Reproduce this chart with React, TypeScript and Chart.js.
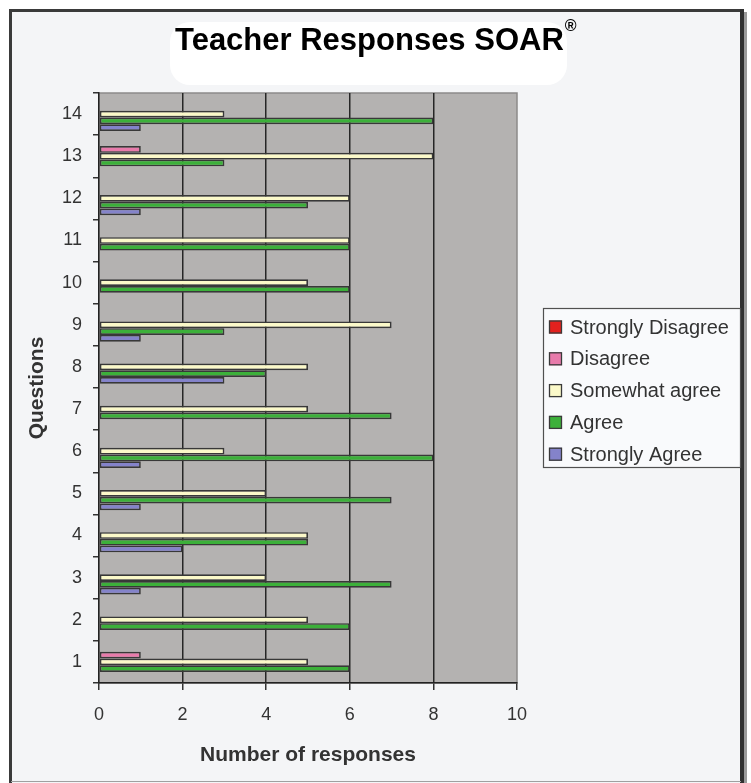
import React, { useEffect, useRef } from "react";
import { Chart, registerables } from "chart.js";

Chart.register(...registerables);

const QUESTIONS = ["1", "2", "3", "4", "5", "6", "7", "8", "9", "10", "11", "12", "13", "14"];
const SERIES_LABELS = ["Strongly Disagree", "Disagree", "Somewhat agree", "Agree", "Strongly Agree"];
const STRONGLY_DISAGREE = [0, 0, 0, 0, 0, 0, 0, 0, 0, 0, 0, 0, 0, 0];
const DISAGREE = [1, 0, 0, 0, 0, 0, 0, 0, 0, 0, 0, 0, 1, 0];
const SOMEWHAT_AGREE = [5, 5, 4, 5, 4, 3, 5, 5, 7, 5, 6, 6, 8, 3];
const AGREE = [6, 6, 7, 5, 7, 8, 7, 4, 3, 6, 6, 5, 3, 8];
const STRONGLY_AGREE = [0, 0, 1, 2, 1, 1, 0, 3, 1, 0, 0, 1, 0, 1];
const SERIES_COLORS = ["#e2211e", "#e87bab", "#fbf9c9", "#3cb03a", "#8483ca"];
const X_MIN = 0;
const X_MAX = 10;
const X_STEP = 2;
const TITLE = "Teacher Responses SOAR";
const TITLE_MARK = "®";
const X_TITLE = "Number of responses";
const Y_TITLE = "Questions";

const FONT = '"Liberation Sans", Arial, sans-serif';

const backgroundPlugin = {
  id: "pageBackground",
  beforeDraw(chart: any) {
    const ctx = chart.ctx;
    const W = chart.width;
    const H = chart.height;
    ctx.save();
    ctx.fillStyle = "#ffffff";
    ctx.fillRect(0, 0, W, H);
    // frame
    ctx.fillStyle = "#f4f5f7";
    ctx.fillRect(11, 11, 730, 772);
    ctx.fillStyle = "#3a3a3a";
    ctx.fillRect(9, 9, 735, 3);
    ctx.fillRect(9, 9, 3, 774);
    ctx.fillStyle = "#303030";
    ctx.fillRect(740, 9, 4, 774);
    ctx.fillStyle = "#9a9a9a";
    ctx.fillRect(744, 12, 3, 771);
    ctx.fillStyle = "#a0a0a0";
    ctx.fillRect(11, 781, 730, 1);
    // title box
    const rx = 170, ry = 22, rw = 397, rh = 63, r = 20;
    ctx.fillStyle = "#ffffff";
    ctx.beginPath();
    ctx.moveTo(rx + r, ry);
    ctx.lineTo(rx + rw - r, ry);
    ctx.arcTo(rx + rw, ry, rx + rw, ry + r, r);
    ctx.lineTo(rx + rw, ry + rh - r);
    ctx.arcTo(rx + rw, ry + rh, rx + rw - r, ry + rh, r);
    ctx.lineTo(rx + r, ry + rh);
    ctx.arcTo(rx, ry + rh, rx, ry + rh - r, r);
    ctx.lineTo(rx, ry + r);
    ctx.arcTo(rx, ry, rx + r, ry, r);
    ctx.closePath();
    ctx.fill();
    // plot area
    const a = chart.chartArea;
    ctx.fillStyle = "#b4b2b1";
    ctx.fillRect(a.left, a.top, a.right - a.left, a.bottom - a.top);
    ctx.strokeStyle = "#8c8a8a";
    ctx.lineWidth = 1.5;
    ctx.strokeRect(a.left, a.top, a.right - a.left, a.bottom - a.top);
    ctx.restore();
  },
  afterDraw(chart: any) {
    const ctx = chart.ctx;
    ctx.save();
    ctx.fillStyle = "#000000";
    ctx.textBaseline = "alphabetic";
    ctx.textAlign = "left";
    ctx.font = `bold 31px ${FONT}`;
    const tx = 175;
    ctx.fillText(TITLE, tx, 50);
    const w = ctx.measureText(TITLE).width;
    ctx.font = `bold 16px ${FONT}`;
    ctx.fillText(TITLE_MARK, tx + w + 1, 31);
    ctx.restore();
  },
};

const legendPlugin = {
  id: "boxLegend",
  afterDraw(chart: any) {
    const ctx = chart.ctx;
    const x = 543, y = 308, w = 197, h = 159;
    ctx.save();
    ctx.fillStyle = "#f9fafc";
    ctx.fillRect(x, y, w, h);
    ctx.strokeStyle = "#505050";
    ctx.lineWidth = 1.2;
    ctx.strokeRect(x + 0.5, y + 0.5, w, h);
    ctx.font = `20px ${FONT}`;
    ctx.textBaseline = "middle";
    ctx.textAlign = "left";
    chart.data.datasets.forEach((ds: any, i: number) => {
      const cy = 327 + i * 31.8;
      ctx.fillStyle = ds.backgroundColor;
      ctx.fillRect(549, cy - 6.5, 13, 13);
      ctx.strokeStyle = "#3a3a3a";
      ctx.lineWidth = 1.3;
      ctx.strokeRect(549.5, cy - 6, 12, 12);
      ctx.fillStyle = "#333333";
      ctx.fillText(ds.label, 570, cy + 1);
    });
    ctx.restore();
  },
};

export default function App() {
  const canvasRef = useRef<HTMLCanvasElement | null>(null);

  useEffect(() => {
    document.body.style.margin = "0";
    const canvas = canvasRef.current;
    if (!canvas) return;
    const seriesData = [STRONGLY_DISAGREE, DISAGREE, SOMEWHAT_AGREE, AGREE, STRONGLY_AGREE];
    const chart = new Chart(canvas, {
      type: "bar",
      data: {
        labels: QUESTIONS,
        datasets: SERIES_LABELS.map((label, i) => ({
          label,
          data: seriesData[i],
          backgroundColor: SERIES_COLORS[i],
          borderColor: "#383838",
          borderWidth: (c: any) => (c.raw ? 1.7 : 0),
          borderSkipped: false,
          barPercentage: 1,
          categoryPercentage: 0.8,
        })),
      },
      options: {
        indexAxis: "y",
        responsive: false,
        animation: false,
        devicePixelRatio: 1,
        layout: { padding: { left: 0, top: 93, right: 234, bottom: 0 } },
        plugins: {
          legend: { display: false },
          title: { display: false },
          tooltip: { enabled: false },
        },
        scales: {
          x: {
            type: "linear",
            min: X_MIN,
            max: X_MAX,
            ticks: {
              stepSize: X_STEP,
              color: "#333333",
              font: { family: FONT, size: 18 },
              padding: 14,
            },
            grid: {
              color: (c: any) =>
                c.tick && (c.tick.value === X_MIN || c.tick.value === X_MAX) ? "rgba(0,0,0,0)" : "#262626",
              lineWidth: 1.5,
              tickColor: "#333333",
              tickLength: 7,
              drawTicks: true,
            },
            border: { display: true, color: "#222222", width: 1.5 },
            title: {
              display: true,
              text: X_TITLE,
              color: "#333333",
              font: { family: FONT, size: 21, weight: "bold" },
              padding: { top: 0, bottom: 15 },
            },
            afterFit(s: any) {
              s.height = 100;
            },
          },
          y: {
            type: "category",
            reverse: true,
            ticks: {
              color: "#333333",
              font: { family: FONT, size: 18 },
              padding: 11,
            },
            grid: {
              drawOnChartArea: false,
              tickLength: 6,
              color: "#333333",
              lineWidth: 1.5,
              offset: true,
            },
            border: { display: true, color: "#222222", width: 1.5 },
            title: {
              display: true,
              text: Y_TITLE,
              color: "#333333",
              font: { family: FONT, size: 21, weight: "bold" },
              padding: { top: 25, bottom: 0 },
            },
            afterFit(s: any) {
              s.width = 99;
            },
          },
        },
      } as any,
      plugins: [backgroundPlugin, legendPlugin],
    });
    return () => chart.destroy();
  }, []);

  return (
    <div style={{ position: "absolute", left: 0, top: 0, width: 751, height: 783 }}>
      <canvas ref={canvasRef} width={751} height={783} style={{ display: "block", width: 751, height: 783 }} />
    </div>
  );
}
